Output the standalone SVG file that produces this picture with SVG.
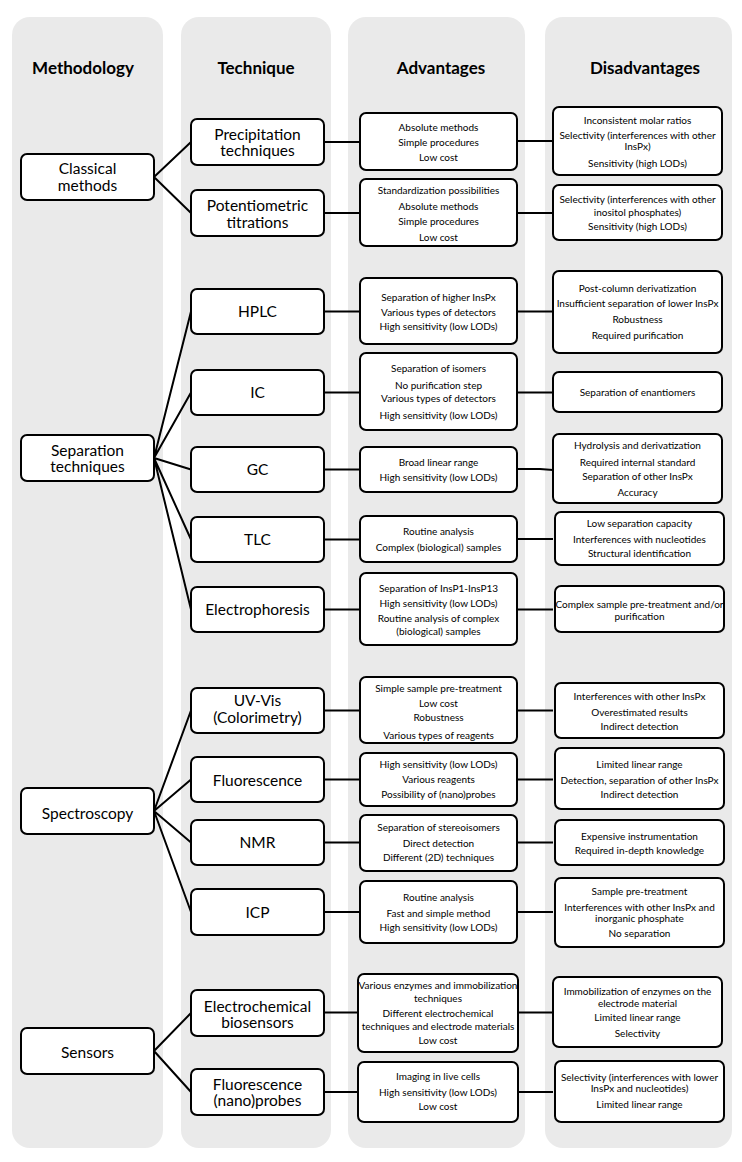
<svg xmlns="http://www.w3.org/2000/svg" width="742" height="1162" viewBox="0 0 742 1162">
<style>
.col{fill:#eaeaea}
.box{fill:#fff;stroke:#000;stroke-width:2}
.hd{font-family:Lato,"Liberation Sans",sans-serif;font-weight:bold;font-size:17px;text-anchor:middle;fill:#000}
.t1{font-family:Lato,"Liberation Sans",sans-serif;font-size:15.5px;text-anchor:middle;fill:#000}
.t2{font-family:Lato,"Liberation Sans",sans-serif;font-size:10px;text-anchor:middle;fill:#000}
.ln{stroke:#000;stroke-width:2;fill:none}
</style>
<g id="columns">
<rect class="col" x="12" y="17" width="151" height="1131" rx="18"/>
<rect class="col" x="181" y="17" width="150" height="1131" rx="18"/>
<rect class="col" x="348" y="17" width="177" height="1131" rx="18"/>
<rect class="col" x="545" y="17" width="187" height="1131" rx="18"/>
<text class="hd" x="83" y="74">Methodology</text>
<text class="hd" x="256" y="74">Technique</text>
<text class="hd" x="441" y="74">Advantages</text>
<text class="hd" x="645" y="74">Disadvantages</text>
</g>
<g id="connectors" class="ln">
<path d="M154 177L191 142M154 177L191 213"/>
<path d="M154 458L191 311.5M154 458L191 392.5M154 458L191 469.5M154 458L191 539.5M154 458L191 609.5"/>
<path d="M154 811L191 710.5M154 811L191 779.5M154 811L191 842.5M154 811L191 912"/>
<path d="M154 1051L191 1013M154 1051L191 1092"/>
<path d="M324 142H360M324 213H360M324 311.5H360M324 392.5H360M324 469.5H360M324 539.5H360M324 609.5H360M324 710.5H360M324 779.5H360M324 842.5H360M324 912H360M324 1012.5H358M324 1092H358"/>
<path d="M517 141H553M517 213H553M517 311.5H553M517 392.5H553M517 469H540L553 470M517 539H553M517 609.5H553M517 710.5H553M517 779.5H553M517 842.5H553M517 912H553M518 1012.5H553M518 1092H553"/>
</g>
<g id="m-classical"><rect class="box" x="21" y="154" width="133" height="46" rx="6"/><text class="t1" x="87.5" y="174">Classical</text><text class="t1" x="87.5" y="191">methods</text></g>
<g id="m-separation"><rect class="box" x="21" y="435" width="133" height="46" rx="6"/><text class="t1" x="87.5" y="455.5">Separation</text><text class="t1" x="87.5" y="471.5">techniques</text></g>
<g id="m-spectroscopy"><rect class="box" x="21" y="788" width="133" height="46" rx="6"/><text class="t1" x="87.5" y="818.5">Spectroscopy</text></g>
<g id="m-sensors"><rect class="box" x="21" y="1028" width="133" height="46" rx="6"/><text class="t1" x="87.5" y="1057.5">Sensors</text></g>

<g id="t-precipitation"><rect class="box" x="191" y="119" width="133" height="46" rx="6"/><text class="t1" x="257.5" y="139.5">Precipitation</text><text class="t1" x="257.5" y="155.5">techniques</text></g>
<g id="t-potentiometric"><rect class="box" x="191" y="190" width="133" height="46" rx="6"/><text class="t1" x="257.5" y="210.5">Potentiometric</text><text class="t1" x="257.5" y="227.5">titrations</text></g>
<g id="t-hplc"><rect class="box" x="191" y="289" width="133" height="45" rx="6"/><text class="t1" x="257.5" y="317">HPLC</text></g>
<g id="t-ic"><rect class="box" x="191" y="370" width="133" height="45" rx="6"/><text class="t1" x="257.5" y="398">IC</text></g>
<g id="t-gc"><rect class="box" x="191" y="447" width="133" height="45" rx="6"/><text class="t1" x="257.5" y="475">GC</text></g>
<g id="t-tlc"><rect class="box" x="191" y="517" width="133" height="45" rx="6"/><text class="t1" x="257.5" y="545">TLC</text></g>
<g id="t-electrophoresis"><rect class="box" x="191" y="587" width="133" height="45" rx="6"/><text class="t1" x="257.5" y="615">Electrophoresis</text></g>
<g id="t-uvvis"><rect class="box" x="191" y="688" width="133" height="45" rx="6"/><text class="t1" x="257.5" y="705.5">UV-Vis</text><text class="t1" x="257.5" y="722.5">(Colorimetry)</text></g>
<g id="t-fluorescence"><rect class="box" x="191" y="757" width="133" height="45" rx="6"/><text class="t1" x="257.5" y="786">Fluorescence</text></g>
<g id="t-nmr"><rect class="box" x="191" y="820" width="133" height="45" rx="6"/><text class="t1" x="257.5" y="848">NMR</text></g>
<g id="t-icp"><rect class="box" x="191" y="889" width="133" height="46" rx="6"/><text class="t1" x="257.5" y="918">ICP</text></g>
<g id="t-electrochemical"><rect class="box" x="191" y="990" width="133" height="46" rx="6"/><text class="t1" x="257.5" y="1011.5">Electrochemical</text><text class="t1" x="257.5" y="1027.5">biosensors</text></g>
<g id="t-nanoprobes"><rect class="box" x="191" y="1069" width="133" height="46" rx="6"/><text class="t1" x="257.5" y="1089.5">Fluorescence</text><text class="t1" x="257.5" y="1105.5">(nano)probes</text></g>

<g id="a-precipitation"><rect class="box" x="360" y="113" width="157" height="57" rx="6"/><text class="t2" x="438.5" y="130.5">Absolute methods</text><text class="t2" x="438.5" y="145.5">Simple procedures</text><text class="t2" x="438.5" y="160.5">Low cost</text></g>
<g id="a-potentiometric"><rect class="box" x="360" y="179" width="157" height="67" rx="6"/><text class="t2" x="438.5" y="193.5">Standardization possibilities</text><text class="t2" x="438.5" y="209.5">Absolute methods</text><text class="t2" x="438.5" y="224.5">Simple procedures</text><text class="t2" x="438.5" y="240.5">Low cost</text></g>
<g id="a-hplc"><rect class="box" x="360" y="278" width="157" height="66" rx="6"/><text class="t2" x="438.5" y="300.5">Separation of higher InsPx</text><text class="t2" x="438.5" y="315.5">Various types of detectors</text><text class="t2" x="438.5" y="329.5">High sensitivity (low LODs)</text></g>
<g id="a-ic"><rect class="box" x="360" y="353" width="157" height="77" rx="6"/><text class="t2" x="438.5" y="371.5">Separation of isomers</text><text class="t2" x="438.5" y="388.5">No purification step</text><text class="t2" x="438.5" y="402">Various types of detectors</text><text class="t2" x="438.5" y="418.5">High sensitivity (low LODs)</text></g>
<g id="a-gc"><rect class="box" x="360" y="447" width="157" height="45" rx="6"/><text class="t2" x="438.5" y="465.5">Broad linear range</text><text class="t2" x="438.5" y="480.5">High sensitivity (low LODs)</text></g>
<g id="a-tlc"><rect class="box" x="360" y="516" width="157" height="46" rx="6"/><text class="t2" x="438.5" y="534.5">Routine analysis</text><text class="t2" x="438.5" y="550.5">Complex (biological) samples</text></g>
<g id="a-electrophoresis"><rect class="box" x="360" y="573" width="157" height="72" rx="6"/><text class="t2" x="438.5" y="591.5">Separation of InsP1-InsP13</text><text class="t2" x="438.5" y="606.5">High sensitivity (low LODs)</text><text class="t2" x="438.5" y="621.5">Routine analysis of complex</text><text class="t2" x="438.5" y="634.5">(biological) samples</text></g>
<g id="a-uvvis"><rect class="box" x="360" y="677" width="157" height="66" rx="6"/><text class="t2" x="438.5" y="691.5">Simple sample pre-treatment</text><text class="t2" x="438.5" y="706.5">Low cost</text><text class="t2" x="438.5" y="720.5">Robustness</text><text class="t2" x="438.5" y="738.5">Various types of reagents</text></g>
<g id="a-fluorescence"><rect class="box" x="360" y="753" width="157" height="53" rx="6"/><text class="t2" x="438.5" y="767.5">High sensitivity (low LODs)</text><text class="t2" x="438.5" y="782.5">Various reagents</text><text class="t2" x="438.5" y="797.5">Possibility of (nano)probes</text></g>
<g id="a-nmr"><rect class="box" x="360" y="815" width="157" height="56" rx="6"/><text class="t2" x="438.5" y="830.5">Separation of stereoisomers</text><text class="t2" x="438.5" y="846.5">Direct detection</text><text class="t2" x="438.5" y="860.5">Different (2D) techniques</text></g>
<g id="a-icp"><rect class="box" x="360" y="881" width="157" height="62" rx="6"/><text class="t2" x="438.5" y="900.5">Routine analysis</text><text class="t2" x="438.5" y="916.5">Fast and simple method</text><text class="t2" x="438.5" y="930.5">High sensitivity (low LODs)</text></g>
<g id="a-electrochemical"><rect class="box" x="358" y="974" width="160" height="78" rx="6"/><text class="t2" x="438" y="988.5">Various enzymes and immobilization</text><text class="t2" x="438" y="1001.5">techniques</text><text class="t2" x="438" y="1016.5">Different electrochemical</text><text class="t2" x="438" y="1029.5">techniques and electrode materials</text><text class="t2" x="438" y="1043.5">Low cost</text></g>
<g id="a-nanoprobes"><rect class="box" x="358" y="1062" width="160" height="60" rx="6"/><text class="t2" x="438" y="1079.5">Imaging in live cells</text><text class="t2" x="438" y="1095.5">High sensitivity (low LODs)</text><text class="t2" x="438" y="1109.5">Low cost</text></g>

<g id="d-precipitation"><rect class="box" x="553" y="107" width="169" height="68" rx="6"/><text class="t2" x="637.5" y="123.5">Inconsistent molar ratios</text><text class="t2" x="637.5" y="139">Selectivity (interferences with other</text><text class="t2" x="637.5" y="150">InsPx)</text><text class="t2" x="637.5" y="166.5">Sensitivity (high LODs)</text></g>
<g id="d-potentiometric"><rect class="box" x="553" y="185" width="169" height="55" rx="6"/><text class="t2" x="637.5" y="203">Selectivity (interferences with other</text><text class="t2" x="637.5" y="216">inositol phosphates)</text><text class="t2" x="637.5" y="230">Sensitivity (high LODs)</text></g>
<g id="d-hplc"><rect class="box" x="553" y="271" width="169" height="82" rx="6"/><text class="t2" x="637.5" y="291.5">Post-column derivatization</text><text class="t2" x="637.5" y="306.5">Insufficient separation of lower InsPx</text><text class="t2" x="637.5" y="322.5">Robustness</text><text class="t2" x="637.5" y="338.5">Required purification</text></g>
<g id="d-ic"><rect class="box" x="553" y="372" width="169" height="40" rx="6"/><text class="t2" x="637.5" y="395.5">Separation of enantiomers</text></g>
<g id="d-gc"><rect class="box" x="553" y="434" width="169" height="69" rx="6"/><text class="t2" x="637.5" y="448.5">Hydrolysis and derivatization</text><text class="t2" x="637.5" y="465.5">Required internal standard</text><text class="t2" x="637.5" y="479.5">Separation of other InsPx</text><text class="t2" x="637.5" y="495.5">Accuracy</text></g>
<g id="d-tlc"><rect class="box" x="555" y="512" width="169" height="53" rx="6"/><text class="t2" x="639.5" y="526.5">Low separation capacity</text><text class="t2" x="639.5" y="542.5">Interferences with nucleotides</text><text class="t2" x="639.5" y="556.5">Structural identification</text></g>
<g id="d-electrophoresis"><rect class="box" x="555" y="586" width="169" height="46" rx="6"/><text class="t2" x="639.5" y="607.5">Complex sample pre-treatment  and/or</text><text class="t2" x="639.5" y="619.5">purification</text></g>
<g id="d-uvvis"><rect class="box" x="555" y="683" width="169" height="55" rx="6"/><text class="t2" x="639.5" y="699.5">Interferences with other InsPx</text><text class="t2" x="639.5" y="715.5">Overestimated results</text><text class="t2" x="639.5" y="729.5">Indirect detection</text></g>
<g id="d-fluorescence"><rect class="box" x="555" y="748" width="169" height="61" rx="6"/><text class="t2" x="639.5" y="767.5">Limited linear range</text><text class="t2" x="639.5" y="783.5">Detection, separation of other InsPx</text><text class="t2" x="639.5" y="797.5">Indirect detection</text></g>
<g id="d-nmr"><rect class="box" x="555" y="820" width="169" height="45" rx="6"/><text class="t2" x="639.5" y="839.5">Expensive instrumentation</text><text class="t2" x="639.5" y="853.5">Required in-depth knowledge</text></g>
<g id="d-icp"><rect class="box" x="555" y="878" width="169" height="69" rx="6"/><text class="t2" x="639.5" y="894.5">Sample pre-treatment</text><text class="t2" x="639.5" y="910.5">Interferences with other InsPx and</text><text class="t2" x="639.5" y="921.5">inorganic phosphate</text><text class="t2" x="639.5" y="936.5">No separation</text></g>
<g id="d-electrochemical"><rect class="box" x="553" y="977" width="169" height="70" rx="6"/><text class="t2" x="637.5" y="995">Immobilization of enzymes on the</text><text class="t2" x="637.5" y="1007">electrode material</text><text class="t2" x="637.5" y="1021">Limited linear range</text><text class="t2" x="637.5" y="1037">Selectivity</text></g>
<g id="d-nanoprobes"><rect class="box" x="555" y="1061" width="169" height="61" rx="6"/><text class="t2" x="639.5" y="1080.5">Selectivity (interferences with lower</text><text class="t2" x="639.5" y="1091.5">InsPx  and nucleotides)</text><text class="t2" x="639.5" y="1107.5">Limited linear range</text></g>
</svg>
